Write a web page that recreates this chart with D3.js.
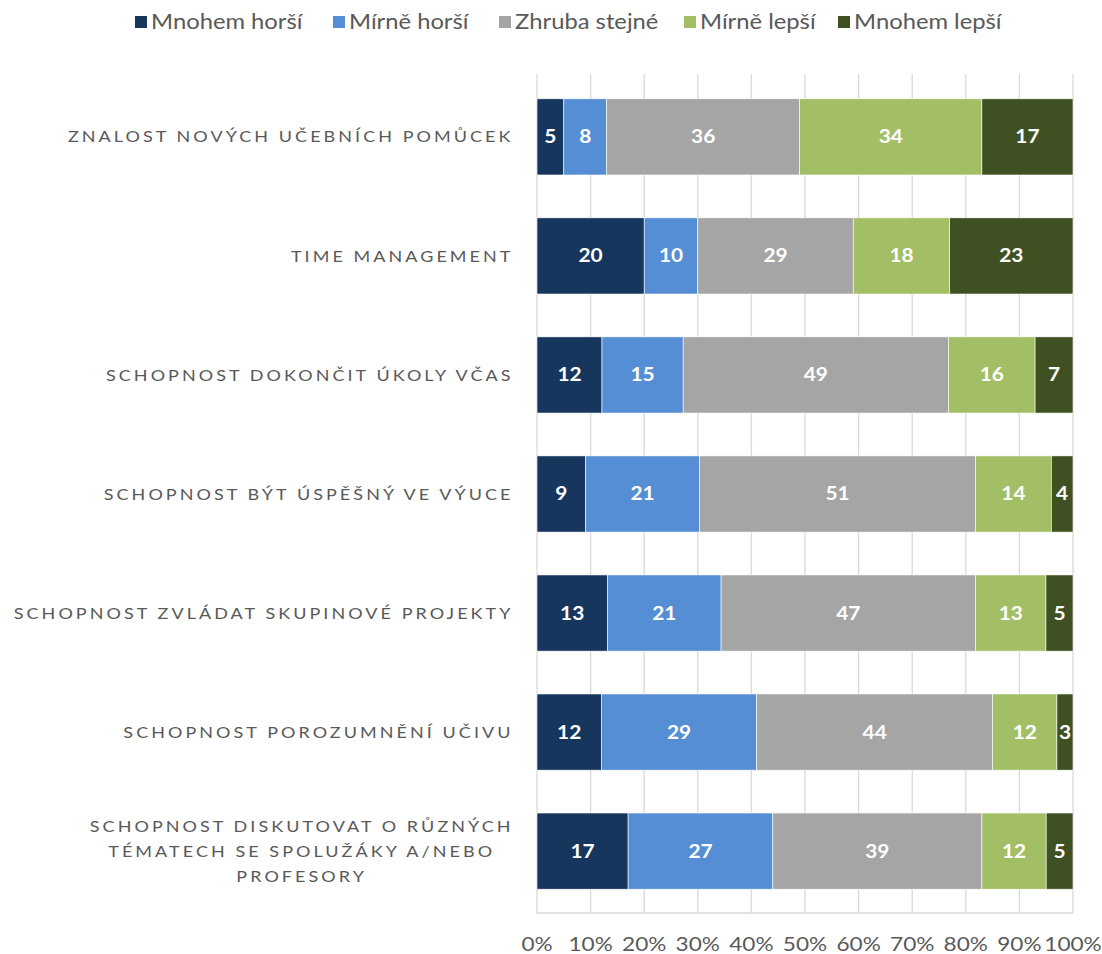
<!DOCTYPE html>
<html>
<head>
<meta charset="utf-8">
<script src="https://cdn.jsdelivr.net/npm/d3@7"></script>
<style>
  html, body { margin: 0; padding: 0; background: #fff; }
  svg { display: block; font-family: Lato, "Open Sans", sans-serif; }
</style>
</head>
<body>
<svg id="chart" width="1102" height="954"></svg>
<script>
// Survey items (top to bottom); labels may wrap onto several lines
const categories = [
  ["ZNALOST NOVÝCH UČEBNÍCH POMŮCEK"],
  ["TIME MANAGEMENT"],
  ["SCHOPNOST DOKONČIT ÚKOLY VČAS"],
  ["SCHOPNOST BÝT ÚSPĚŠNÝ VE VÝUCE"],
  ["SCHOPNOST ZVLÁDAT SKUPINOVÉ PROJEKTY"],
  ["SCHOPNOST POROZUMNĚNÍ UČIVU"],
  ["SCHOPNOST DISKUTOVAT O RŮZNÝCH", "TÉMATECH SE SPOLUŽÁKY A/NEBO", "PROFESORY"]
];

const seriesNames = ["Mnohem horší", "Mírně horší", "Zhruba stejné", "Mírně lepší", "Mnohem lepší"];
const seriesColors = ["#17365d", "#558ed5", "#a5a5a5", "#a2bf66", "#3f5123"];

const mnohemHorsi = [5, 20, 12, 9, 13, 12, 17];
const mirneHorsi  = [8, 10, 15, 21, 21, 29, 27];
const zhrubaStejne = [36, 29, 49, 51, 47, 44, 39];
const mirneLepsi  = [34, 18, 16, 14, 13, 12, 12];
const mnohemLepsi = [17, 23, 7, 4, 5, 3, 5];

const tickValues = [0, 0.1, 0.2, 0.3, 0.4, 0.5, 0.6, 0.7, 0.8, 0.9, 1.0];

const seriesValues = [mnohemHorsi, mirneHorsi, zhrubaStejne, mirneLepsi, mnohemLepsi];
const rows = categories.map((c, i) => {
  const r = { key: i };
  seriesNames.forEach((s, j) => { r[s] = seriesValues[j][i]; });
  return r;
});

const svg = d3.select("#chart");
const margin = { left: 537, right: 29, top: 75, bottom: 41 };
const W = 1102, H = 954;
const SX = 1.16; // horizontal widening of the lettering

const x = d3.scaleLinear().domain([0, 1]).range([margin.left, W - margin.right]);
const y = d3.scaleBand().domain(d3.range(categories.length))
  .range([margin.top, H - margin.bottom]).paddingInner(0.36).paddingOuter(0.2);

// gridlines
svg.append("g").selectAll("line").data(tickValues).join("line")
  .attr("x1", d => x(d)).attr("x2", d => x(d))
  .attr("y1", margin.top - 1).attr("y2", H - margin.bottom)
  .attr("stroke", "#d9d9d9").attr("stroke-width", 1.3);
svg.append("line")
  .attr("x1", x(0)).attr("x2", x(1))
  .attr("y1", H - margin.bottom).attr("y2", H - margin.bottom)
  .attr("stroke", "#d9d9d9").attr("stroke-width", 1.3);

// stacked bars, normalised to 100 %
const stack = d3.stack().keys(seriesNames).offset(d3.stackOffsetExpand);
const layers = stack(rows);

const gLayers = svg.append("g").selectAll("g").data(layers).join("g")
  .attr("fill", (d, i) => seriesColors[i]);

gLayers.selectAll("rect").data(d => d).join("rect")
  .attr("x", d => x(d[0]))
  .attr("y", (d, i) => y(i))
  .attr("width", d => x(d[1]) - x(d[0]))
  .attr("height", y.bandwidth())
  .attr("stroke", "#fff").attr("stroke-width", 0.6);

// value labels
gLayers.selectAll("text").data((d, li) => d.map((v, i) => ({ v, i, val: seriesValues[li][i] })))
  .join("text")
  .attr("transform", d => `translate(${(x(d.v[0]) + x(d.v[1])) / 2},${y(d.i) + y.bandwidth() / 2}) scale(${SX},1)`)
  .attr("dy", "0.36em")
  .attr("text-anchor", "middle")
  .attr("fill", "#fff")
  .attr("font-weight", "bold")
  .attr("font-size", 18)
  .text(d => d.val);

// category labels
const labelRight = 512;
const gCat = svg.append("g").attr("fill", "#595959").attr("font-size", 15.5).attr("letter-spacing", "2.65px");
categories.forEach((lines, i) => {
  const cy = y(i) + y.bandwidth() / 2;
  const lh = 25;
  const t = gCat.append("text").attr("text-anchor", "middle")
    .attr("transform", `translate(${labelRight},${cy}) scale(${SX},1)`);
  lines.forEach((ln, k) => {
    t.append("tspan").attr("y", (k - (lines.length - 1) / 2) * lh).attr("dy", "0.36em").text(ln);
  });
  // measure widest line, then centre all lines inside that width ending at labelRight
  const widths = [];
  t.selectAll("tspan").each(function () { widths.push(this.getComputedTextLength()); });
  const maxW = d3.max(widths);
  t.selectAll("tspan").attr("x", -maxW / 2 + 1.3);
});

// x tick labels
svg.append("g").selectAll("text").data(tickValues).join("text")
  .attr("transform", d => `translate(${x(d)},944) scale(${SX},1)`)
  .attr("dy", "0.36em")
  .attr("text-anchor", "middle")
  .attr("fill", "#595959")
  .attr("font-size", 19.5)
  .text(d => d3.format(".0%")(d));

// legend
const legendX = [135, 333, 499, 684, 838];
const gLeg = svg.append("g");
seriesNames.forEach((s, i) => {
  gLeg.append("rect").attr("x", legendX[i]).attr("y", 16).attr("width", 12).attr("height", 12)
    .attr("fill", seriesColors[i]);
  gLeg.append("text").attr("transform", `translate(${legendX[i] + 16},22) scale(${SX},1)`).attr("dy", "0.36em")
    .attr("fill", "#595959").attr("font-size", 20.5).text(s);
});
</script>
</body>
</html>
